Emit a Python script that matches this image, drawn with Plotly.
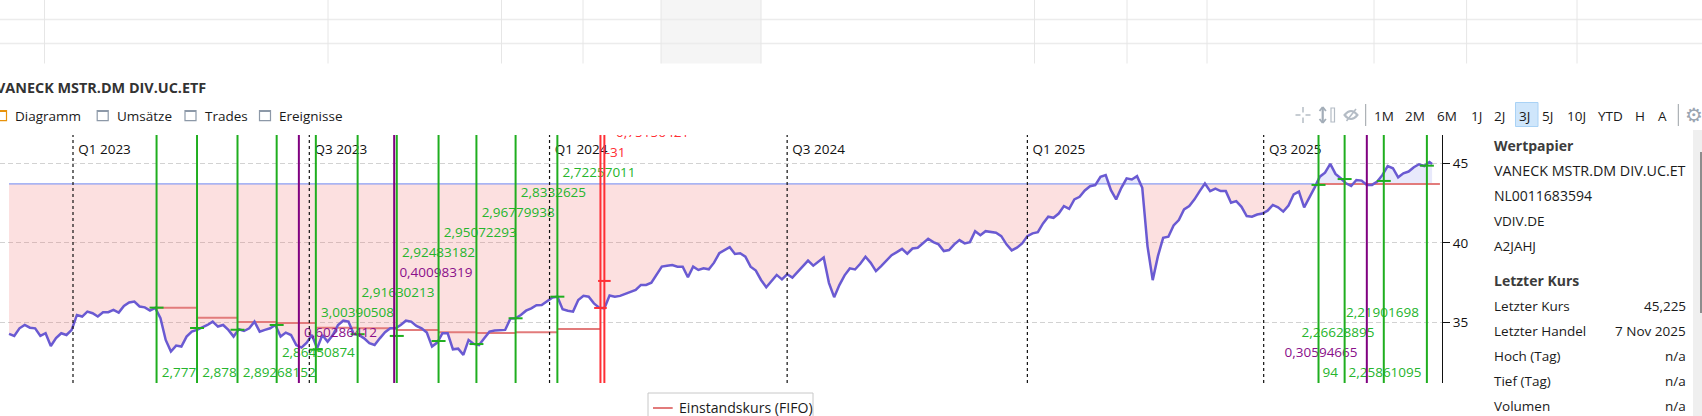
import numpy as np
import pandas as pd
import plotly.graph_objects as go

# ---------- data ----------
price_values = [
34.27,34.14,34.62,34.83,34.66,34.62,34.14,34.31,33.51,34.0,34.31,34.2,34.52,35.46,35.36,35.67,35.57,35.36,35.63,35.63,
35.78,35.61,36.03,36.24,36.3,35.99,35.94,35.73,35.9,35.25,33.89,33.16,33.53,33.47,34.1,34.41,34.52,34.66,34.83,35.04,
34.73,34.83,34.52,34.1,34.56,34.45,34.62,35.04,34.41,34.52,34.62,34.83,34.1,34.35,34.2,33.57,33.41,33.72,34.2,33.36,
34.2,33.78,34.2,34.83,35.1,35.04,34.27,34.2,33.99,33.68,33.57,33.99,34.37,34.62,34.62,34.83,35.1,35.04,34.77,34.62,
34.35,33.47,33.72,34.31,34.31,33.3,33.34,32.95,33.89,33.64,33.57,33.99,34.41,34.48,34.52,34.52,35.23,35.25,35.46,35.73,
35.88,36.07,36.09,36.3,36.55,36.61,35.82,35.73,35.67,36.4,36.66,36.61,36.19,35.92,35.88,36.68,36.61,36.66,36.78,36.93,
37.03,37.35,37.35,37.49,37.98,38.5,38.56,38.6,38.5,38.5,37.83,38.5,38.29,38.4,38.33,38.75,39.34,39.55,39.72,39.3,
39.34,39.13,38.5,38.25,37.66,37.2,37.56,37.98,37.7,38.02,37.81,38.19,38.5,38.88,38.56,38.82,39.07,37.48,36.58,37.34,
37.95,38.39,38.32,38.68,39.12,38.74,38.22,38.53,38.91,39.22,39.41,39.62,39.31,39.64,39.69,40.0,40.25,40.04,39.9,39.48,
39.54,39.9,40.17,39.96,40.04,40.73,40.48,40.73,40.67,40.63,40.42,39.9,39.52,39.69,39.96,40.42,40.59,40.67,41.22,41.64,
41.57,41.84,42.31,42.14,42.73,42.89,43.29,43.56,43.63,44.15,44.26,43.31,42.73,43.46,44.05,43.98,44.19,43.46,39.79,37.65,
39.16,40.31,40.38,41.09,41.43,42.1,42.31,42.73,43.25,43.73,43.25,43.4,43.25,43.25,42.52,42.62,42.26,41.68,41.64,41.78,
41.84,42.02,42.38,42.23,41.96,42.34,43.05,43.22,42.23,42.84,43.47,44.16,44.41,44.96,44.33,44.06,43.74,43.57,43.95,43.91,
43.64,43.64,43.85,44.27,44.83,44.69,44.12,44.37,44.48,44.75,44.94,44.83,45.08,44.96]
price_start = "2022-11-13"
last_date = "2025-11-07"
cost_level = 43.7

buy_dates = ["2023-03-06","2023-04-06","2023-05-07","2023-06-06","2023-07-06","2023-08-07","2023-09-06","2023-10-08",
             "2023-11-06","2023-12-06","2024-01-07","2025-08-12","2025-09-01","2025-10-01","2025-11-03"]
buy_prices = [35.92,34.64,34.53,34.83,33.28,34.25,34.14,33.82,33.63,35.25,36.61,43.64,44.01,43.89,44.85]
sell_dates = ["2024-02-09","2024-02-12"]
sell_prices = [35.9,37.6]
dividend_dates = ["2023-06-23","2023-09-04","2025-09-18"]

fifo_start = ["2023-03-06","2023-04-06","2023-05-07","2023-06-06","2023-07-06","2023-08-07","2023-09-06","2023-10-08",
              "2023-11-06","2023-12-06","2024-01-07","2025-08-12"]
fifo_end = ["2023-04-06","2023-05-07","2023-06-06","2023-07-06","2023-08-07","2023-09-06","2023-10-08","2023-11-06",
            "2023-12-06","2024-01-07","2024-02-09","2025-11-13"]
fifo_price = [35.92,35.29,35.02,34.96,34.66,34.62,34.52,34.37,34.33,34.37,34.58,43.7]

green_label_dates = ["2023-03-10","2023-04-10","2023-05-11","2023-06-10","2023-07-10","2023-08-10","2023-09-10",
                     "2023-10-12","2023-11-10","2023-12-10","2024-01-11","2025-07-30","2025-08-15","2025-09-02","2025-09-04"]
green_label_levels = [31.75,31.75,31.75,33.03,35.52,36.78,39.31,40.55,41.81,43.07,44.33,34.28,31.76,35.54,31.76]
green_label_texts = ["2,777","2,878","2,89268152","2,86450874","3,00390508","2,91630213","2,92483182","2,95072293",
                     "2,96779938","2,8332625","2,72257011","2,26628895","94","2,21901698","2,25861095"]
purple_label_dates = ["2023-06-27","2023-09-08","2025-07-17"]
purple_label_levels = [34.26,38.06,33.03]
purple_label_texts = ["0,60286412","0,40098319","0,30594665"]
red_label_dates = ["2024-02-13","2024-02-21"]
red_label_levels = [45.60,46.86]
red_label_texts = ["-31","0,75156421"]

quarter_dates = ["2023-01-01","2023-07-01","2024-01-01","2024-07-01","2025-01-01","2025-07-01"]
quarter_label_dates = ["2023-01-05","2023-07-05","2024-01-05","2024-07-05","2025-01-05","2025-07-05"]
quarter_labels = ["Q1 2023","Q3 2023","Q1 2024","Q3 2024","Q1 2025","Q3 2025"]
quarter_label_level = 45.8
y_ticks = [35, 40, 45]

range_buttons = ["1M","2M","6M","1J","2J","3J","5J","10J","YTD","H","A"]
range_button_x = [1384,1415,1447,1476,1499,1524,1547,1576,1610,1640,1662]
panel_info = ["VANECK MSTR.DM DIV.UC.ET","NL0011683594","VDIV.DE","A2JAHJ"]
panel_info_size = [14.3,14.0,13.5,13.5]
panel_rows = [("Letzter Kurs","45,225"),("Letzter Handel","7 Nov 2025"),("Hoch (Tag)","n/a"),("Tief (Tag)","n/a"),("Volumen","n/a")]

# ---------- colours ----------
GREEN = "#1fae1f"; GREEN_T = "#25b52d"; PURPLE = "#800080"; RED = "#ff2f35"
FONT = "Open Sans"; FS = 13.5
W, H = 1702, 416

def px(x): return x / W
def py(y): return 1 - y / H

dates = list(pd.date_range(price_start, periods=len(price_values) - 1, freq="4D")) + [pd.Timestamp(last_date)]
p = np.array(price_values)
base = np.full(len(p), cost_level)
fig = go.Figure()

# fills
fig.add_trace(go.Scatter(x=dates, y=base, mode="lines", line=dict(width=0), showlegend=False, hoverinfo="skip"))
fig.add_trace(go.Scatter(x=dates, y=np.minimum(p, cost_level), mode="lines", line=dict(width=0), fill="tonexty",
                         fillcolor="rgba(240,100,100,0.2)", showlegend=False, hoverinfo="skip"))
fig.add_trace(go.Scatter(x=dates, y=base, mode="lines", line=dict(width=0), showlegend=False, hoverinfo="skip"))
fig.add_trace(go.Scatter(x=dates, y=np.maximum(p, cost_level), mode="lines", line=dict(width=0), fill="tonexty",
                         fillcolor="rgba(100,110,230,0.15)", showlegend=False, hoverinfo="skip"))
# thin reference line
before = [d < pd.Timestamp(fifo_start[-1]) for d in dates]
fig.add_trace(go.Scatter(x=[d for d, b in zip(dates, before) if b], y=[cost_level] * sum(before), mode="lines",
                         line=dict(color="#8a9cf2", width=1.2), showlegend=False, hoverinfo="skip"))
# FIFO steps
fx, fy = [], []
for a, b, v in zip(fifo_start, fifo_end, fifo_price):
    fx += [a, b, None]; fy += [v, v, None]
fig.add_trace(go.Scatter(x=fx, y=fy, mode="lines", line=dict(color="#e27b7b", width=2),
                         name="Einstandskurs (FIFO)", showlegend=False, hoverinfo="skip"))
# price
fig.add_trace(go.Scatter(x=dates, y=p, mode="lines", line=dict(color="#6a5ad2", width=2.5), showlegend=False, hoverinfo="skip"))
# trade ticks
fig.add_trace(go.Scatter(x=buy_dates, y=buy_prices, mode="markers", showlegend=False, hoverinfo="skip",
                         marker=dict(symbol="line-ew", size=10, line=dict(color=GREEN, width=2))))
fig.add_trace(go.Scatter(x=sell_dates, y=sell_prices, mode="markers", showlegend=False, hoverinfo="skip",
                         marker=dict(symbol="line-ew", size=9, line=dict(color=RED, width=2))))
# labels
for xs, ys, ts, c in [(quarter_label_dates, [quarter_label_level] * 6, quarter_labels, "#111111"),
                      (green_label_dates, green_label_levels, green_label_texts, GREEN_T),
                      (purple_label_dates, purple_label_levels, purple_label_texts, "#8a0f8a"),
                      (red_label_dates, red_label_levels, red_label_texts, RED)]:
    fig.add_trace(go.Scatter(x=xs, y=ys, text=ts, mode="text", textposition="middle right", showlegend=False,
                             hoverinfo="skip", cliponaxis=True, textfont=dict(family=FONT, size=FS, color=c)))

shapes = []
def vline(d, color, width, dash="solid"):
    shapes.append(dict(type="line", xref="x", yref="paper", x0=d, x1=d, y0=py(383), y1=py(135),
                       line=dict(color=color, width=width, dash=dash)))
for d in quarter_dates: vline(d, "#111111", 1.2, "3px,3px")
for d in buy_dates: vline(d, GREEN, 2)
for d in dividend_dates: vline(d, PURPLE, 2)
for d in sell_dates: vline(d, RED, 2)

def rect(x0, y0, x1, y1, fill=None, line=None, lw=1):
    shapes.append(dict(type="rect", xref="paper", yref="paper", x0=px(x0), x1=px(x1), y0=py(y0), y1=py(y1),
                       fillcolor=fill or "rgba(0,0,0,0)", line=dict(color=line or "rgba(0,0,0,0)", width=lw if line else 0), layer="below"))
def seg(x0, y0, x1, y1, color, lw=1):
    shapes.append(dict(type="line", xref="paper", yref="paper", x0=px(x0), x1=px(x1), y0=py(y0), y1=py(y1),
                       line=dict(color=color, width=lw)))

# spreadsheet behind the top
rect(661, 0, 761, 63.5, fill="#f5f5f5")
for y in [19.5, 43.5]: seg(0, y, W, y, "#ececec", 1.3)
for x in [44.5, 328, 501.5, 583, 661, 761, 1034.5, 1127, 1207, 1374, 1466.6, 1577]:
    seg(x, 0, x, 63.5, "#e6e6e6", 1)

# checkboxes
rect(-4, 110.7, 6.5, 120.7, line="#e8930c", lw=1.2)
seg(-4, 111, 6.5, 111, "#e8930c", 2)
for x0 in [97.2, 185, 259.5]:
    rect(x0, 110.7, x0 + 11, 120.7, line="#8d99a8", lw=1.2)
    seg(x0, 111, x0 + 11, 111, "#8d99a8", 2)

# toolbar
ic = "#b4bcc5"
seg(1303, 107, 1303, 112.5, ic, 1.5); seg(1303, 117.5, 1303, 123, ic, 1.5)
seg(1295.5, 115, 1300.5, 115, ic, 1.5); seg(1305.5, 115, 1310.5, 115, ic, 1.5)
seg(1322.7, 108, 1322.7, 122, "#a3adb8", 2.2)
seg(1319.5, 111, 1322.7, 107, "#a3adb8", 1.8); seg(1325.9, 111, 1322.7, 107, "#a3adb8", 1.8)
seg(1319.5, 119, 1322.7, 123, "#a3adb8", 1.8); seg(1325.9, 119, 1322.7, 123, "#a3adb8", 1.8)
rect(1331, 108, 1334.5, 122, line=ic, lw=1.2)
shapes.append(dict(type="path", xref="paper", yref="paper",
                   path="M %f %f Q %f %f %f %f Q %f %f %f %f Z" % (px(1344.5), py(115), px(1351), py(107), px(1357.5), py(115),
                                                                  px(1351), py(123), px(1344.5), py(115)),
                   line=dict(color=ic, width=2)))
seg(1346.5, 121, 1356, 109, ic, 1.6)
seg(1365.7, 104, 1365.7, 126, "#9aa0a6", 1)
seg(1678.3, 104, 1678.3, 126, "#9aa0a6", 1)
rect(1515.5, 102.5, 1538, 126.5, fill="#cfe6fb", line="#a9d2f5", lw=1)

# side panel scrollbar
rect(1693, 130, 1702, 416, fill="#efefef")
seg(1701, 152, 1701, 313, "#8d8d8d", 2)

# legend box, cut by the lower page edge
rect(648, 393, 813, 425, fill="white", line="#c8c8c8", lw=1)
seg(653, 408, 672.7, 408, "#e27b7b", 2)

notes = []
def note(x, y, text, anchor="left", size=FS, bold=False, color="#1a1a1a", family=FONT):
    notes.append(dict(xref="paper", yref="paper", x=px(x), y=py(y), text=("<b>%s</b>" % text) if bold else text,
                      showarrow=False, xanchor=anchor, yanchor="middle", borderpad=0,
                      font=dict(family=family, size=size, color=color)))
note(206.7, 87.7, "VANECK MSTR.DM DIV.UC.ETF", "right", size=14.4, bold=True, color="#333333")
note(13.8, 116, "Diagramm"); note(115.6, 116, "Umsätze"); note(203.6, 116, "Trades"); note(277.8, 116, "Ereignisse")
for t, x in zip(range_buttons, range_button_x):
    note(x, 116, t, "center")
note(1694, 115, "⚙", "center", size=20, color="#9aa5b1", family="DejaVu Sans")
note(1493, 145.7, "Wertpapier", size=14, bold=True, color="#3c3c3c")
for i, (t, s) in enumerate(zip(panel_info, panel_info_size)):
    note(1493, 170.7 + 25 * i, t, size=s)
note(1493, 280.7, "Letzter Kurs", size=14, bold=True, color="#3c3c3c")
for i, (a, b) in enumerate(panel_rows):
    note(1493, 305.7 + 25 * i, a)
    note(1686.7, 305.7 + 25 * i, b, "right")
note(678, 407.5, "Einstandskurs (FIFO)", size=14.1)

fig.update_layout(
    width=W, height=H, autosize=False, margin=dict(l=0, r=0, t=0, b=0),
    paper_bgcolor="white", plot_bgcolor="rgba(0,0,0,0)",
    font=dict(family=FONT, size=FS, color="#111111"),
    shapes=shapes, annotations=notes, showlegend=False,
    xaxis=dict(domain=[0, 1442 / W], range=["2022-11-06 02:00", "2025-11-14 14:00"], type="date", visible=False, fixedrange=True),
    yaxis=dict(domain=[py(383), py(135)], range=[31.18, 46.78], side="right", tickvals=y_ticks, ticktext=[str(v) for v in y_ticks],
               showline=True, linecolor="#111111", linewidth=1, ticks="outside", ticklen=7, tickcolor="#111111",
               tickfont=dict(family=FONT, size=FS, color="#111111"), showgrid=True, gridcolor="#d2d2d2", griddash="5px,3px",
               zeroline=False, fixedrange=True, automargin=False),
)
fig.write_html("out.html", config=dict(displayModeBar=False), post_script="document.body.style.margin='0';document.body.style.overflow='hidden';")
